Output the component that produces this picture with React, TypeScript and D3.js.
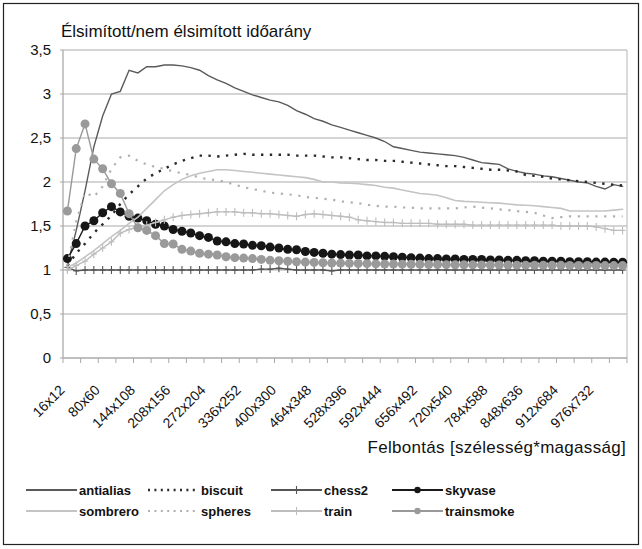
import React from 'react';
import * as d3 from 'd3';

const categories = [
  '16x12','32x24','48x36','64x48','80x60','96x72','112x84','128x96','144x108','160x120',
  '176x132','192x144','208x156','224x168','240x180','256x192','272x204','288x216','304x228','320x240',
  '336x252','352x264','368x276','384x288','400x300','416x312','432x324','448x336','464x348','480x360',
  '496x372','512x384','528x396','544x408','560x420','576x432','592x444','608x456','624x468','640x480',
  '656x492','672x504','688x516','704x528','720x540','736x552','752x564','768x576','784x588','800x600',
  '816x612','832x624','848x636','864x648','880x660','896x672','912x684','928x696','944x708','960x720',
  '976x732','992x744','1008x756','1024x768',
];

const antialias = [1.05,1.45,1.9,2.4,2.75,3.0,3.03,3.27,3.24,3.31,3.31,3.33,3.33,3.32,3.3,3.27,3.21,3.16,3.12,3.07,3.03,2.99,2.96,2.93,2.91,2.87,2.81,2.77,2.72,2.69,2.65,2.62,2.59,2.56,2.53,2.5,2.46,2.4,2.38,2.36,2.34,2.33,2.32,2.31,2.3,2.28,2.25,2.22,2.21,2.2,2.15,2.12,2.1,2.09,2.07,2.06,2.04,2.02,2.0,1.99,1.95,1.92,1.97,1.95];
const biscuit = [1.05,1.19,1.3,1.42,1.52,1.62,1.75,1.86,1.95,2.04,2.1,2.15,2.2,2.24,2.27,2.3,2.3,2.29,2.3,2.31,2.32,2.31,2.31,2.31,2.31,2.31,2.3,2.3,2.3,2.29,2.28,2.28,2.27,2.26,2.25,2.25,2.24,2.24,2.23,2.22,2.21,2.2,2.19,2.18,2.18,2.17,2.16,2.15,2.14,2.14,2.13,2.12,2.08,2.07,2.06,2.04,2.03,2.02,2.01,2.0,1.99,1.98,1.97,1.96];
const chess2 = [1.03,0.99,1.0,1.0,1.0,1.0,1.0,1.0,1.0,1.0,1.0,1.0,1.0,1.0,1.0,1.0,1.0,1.0,1.0,1.0,1.0,1.0,1.01,1.01,1.02,1.01,1.0,1.0,1.0,1.0,0.99,1.0,1.0,1.0,1.0,1.0,1.0,1.0,1.0,1.0,1.0,1.0,1.0,1.0,1.0,1.0,1.0,1.0,1.0,1.0,1.0,1.0,1.0,1.0,1.0,1.0,1.0,1.0,1.0,1.0,1.0,1.0,1.0,1.0];
const skyvase = [1.13,1.3,1.5,1.56,1.65,1.72,1.66,1.61,1.59,1.56,1.52,1.5,1.46,1.44,1.42,1.39,1.37,1.33,1.32,1.3,1.295,1.28,1.275,1.26,1.25,1.235,1.23,1.21,1.2,1.19,1.18,1.175,1.17,1.17,1.16,1.16,1.155,1.15,1.145,1.14,1.135,1.13,1.13,1.125,1.125,1.12,1.12,1.12,1.115,1.115,1.11,1.11,1.105,1.105,1.1,1.1,1.1,1.095,1.095,1.095,1.09,1.09,1.088,1.088];
const sombrero = [1.03,1.08,1.15,1.22,1.3,1.38,1.45,1.53,1.6,1.7,1.8,1.9,1.97,2.03,2.07,2.1,2.12,2.14,2.14,2.13,2.12,2.11,2.1,2.09,2.08,2.07,2.06,2.05,2.03,2.0,2.0,1.99,1.985,1.98,1.97,1.96,1.94,1.93,1.91,1.89,1.87,1.86,1.85,1.82,1.79,1.78,1.775,1.77,1.765,1.76,1.75,1.74,1.735,1.73,1.72,1.71,1.7,1.67,1.67,1.67,1.67,1.67,1.68,1.69];
const spheres = [1.05,1.55,1.88,1.83,1.95,2.15,2.28,2.3,2.24,2.2,2.17,2.15,2.12,2.1,2.08,2.05,2.03,2.02,2.0,1.97,1.94,1.92,1.9,1.88,1.87,1.86,1.85,1.83,1.82,1.81,1.8,1.78,1.77,1.76,1.74,1.73,1.72,1.72,1.71,1.71,1.7,1.7,1.7,1.7,1.7,1.71,1.72,1.71,1.7,1.69,1.68,1.67,1.66,1.65,1.62,1.59,1.6,1.61,1.61,1.61,1.61,1.61,1.61,1.61];
const train = [1.0,1.05,1.1,1.18,1.25,1.32,1.42,1.46,1.49,1.51,1.54,1.57,1.6,1.62,1.63,1.64,1.65,1.66,1.66,1.66,1.65,1.65,1.64,1.64,1.63,1.62,1.61,1.63,1.64,1.63,1.62,1.61,1.6,1.57,1.56,1.55,1.54,1.54,1.53,1.53,1.53,1.53,1.52,1.52,1.52,1.52,1.51,1.51,1.51,1.51,1.51,1.51,1.51,1.51,1.51,1.51,1.5,1.5,1.5,1.5,1.49,1.47,1.45,1.45];
const trainsmoke = [1.67,2.38,2.66,2.26,2.15,1.98,1.87,1.64,1.48,1.45,1.39,1.3,1.295,1.235,1.215,1.19,1.18,1.17,1.15,1.14,1.135,1.13,1.12,1.11,1.105,1.1,1.094,1.09,1.086,1.083,1.08,1.078,1.076,1.074,1.072,1.07,1.068,1.067,1.066,1.065,1.064,1.063,1.062,1.061,1.06,1.06,1.059,1.058,1.057,1.057,1.056,1.055,1.055,1.054,1.054,1.053,1.053,1.052,1.052,1.051,1.051,1.05,1.05,1.05];

const yTicks = [0, 0.5, 1, 1.5, 2, 2.5, 3, 3.5];

type Style = { name: string; data: number[]; color: string; width: number; dash?: string; marker?: 'plus' | 'dot'; markerColor?: string };

const series: Style[] = [
  { name: 'antialias', data: antialias, color: '#5a5a5a', width: 1.4 },
  { name: 'biscuit', data: biscuit, color: '#2a2a2a', width: 2.4, dash: '2.4,6.4' },
  { name: 'chess2', data: chess2, color: '#555', width: 1.4, marker: 'plus' },
  { name: 'skyvase', data: skyvase, color: '#1a1a1a', width: 1.4, marker: 'dot', markerColor: '#161616' },
  { name: 'sombrero', data: sombrero, color: '#c4c4c4', width: 1.6 },
  { name: 'spheres', data: spheres, color: '#b0b0b0', width: 2.2, dash: '2.2,6.6' },
  { name: 'train', data: train, color: '#bdbdbd', width: 1.4, marker: 'plus' },
  { name: 'trainsmoke', data: trainsmoke, color: '#999', width: 1.4, marker: 'dot', markerColor: '#9a9a9a' },
];

const W = 642, H = 549;
const left = 63, right = 627, top = 50, bottom = 358;
const font = 'Liberation Sans, Arial, sans-serif';

export default function App() {
  const x = d3.scalePoint<string>().domain(categories).range([left, right]).padding(0.5);
  const step = x.step();
  const y = d3.scaleLinear().domain([0, 3.5]).range([bottom, top]);
  const line = d3.line<number>().x((_, i) => x(categories[i]) as number).y((d) => y(d));

  const tickBounds = d3.range(0, categories.length + 1, 2).map((k) => left + k * step);
  const labelIdx = d3.range(0, categories.length, 4);

  const legendCols = [26, 148, 271, 392];
  const legendRows = [490, 511];

  const renderMarkers = (s: Style, pts: [number, number][], key: string) =>
    pts.map(([px, py], i) =>
      s.marker === 'plus' ? (
        <g key={key + i} stroke={s.color} strokeWidth={1.1}>
          <line x1={px} x2={px} y1={py - 4} y2={py + 4} />
          <line x1={px - 3} x2={px + 3} y1={py} y2={py} />
        </g>
      ) : s.marker === 'dot' ? (
        <circle key={key + i} cx={px} cy={py} r={4.5} fill={s.markerColor} />
      ) : null
    );

  return (
    <svg width={W} height={H} style={{ display: 'block', position: 'absolute', left: 0, top: 0 }} fontFamily={font}>
      <rect x={0} y={0} width={W} height={H} fill="#fff" />
      <rect x={3.5} y={3.5} width={635} height={541} fill="none" stroke="#222" strokeWidth={1.2} />
      <text x={61} y={37} fontSize={17} fill="#111">Élsimított/nem élsimított időarány</text>

      {yTicks.map((t) => (
        <g key={t}>
          {t > 0 && <line x1={left} x2={right} y1={y(t)} y2={y(t)} stroke="#c6c6c6" strokeWidth={1.3} />}
          <line x1={left - 3} x2={left} y1={y(t)} y2={y(t)} stroke="#aaa" />
          <text x={51} y={y(t) + 5} fontSize={15} textAnchor="end" fill="#111">{String(t).replace('.', ',')}</text>
        </g>
      ))}
      <line x1={right} x2={right} y1={top} y2={bottom} stroke="#c6c6c6" strokeWidth={1.3} />
      <line x1={left} x2={left} y1={top} y2={bottom} stroke="#aaa" strokeWidth={1.3} />
      <line x1={left} x2={right} y1={bottom} y2={bottom} stroke="#aaa" strokeWidth={1.3} />
      {tickBounds.map((tx, i) => (
        <line key={i} x1={tx} x2={tx} y1={bottom} y2={bottom + 5} stroke="#aaa" />
      ))}
      {labelIdx.map((i) => {
        const cx = (x(categories[i]) as number) - 2;
        const cy = 391;
        return (
          <text key={i} x={cx} y={cy} fontSize={14} textAnchor="end" fill="#111" transform={`rotate(-45 ${cx} ${cy})`}>
            {categories[i]}
          </text>
        );
      })}
      <text x={626} y={453} fontSize={17} letterSpacing={0.3} textAnchor="end" fill="#111">Felbontás [szélesség*magasság]</text>

      {series.map((s) => {
        const pts = s.data.map((d, i) => [x(categories[i]) as number, y(d)] as [number, number]);
        return (
          <g key={s.name}>
            <path d={line(s.data) || ''} fill="none" stroke={s.color} strokeWidth={s.width} strokeDasharray={s.dash} strokeLinecap={s.dash ? 'butt' : 'round'} />
            {renderMarkers(s, pts, s.name)}
          </g>
        );
      })}

      {series.map((s, i) => {
        const lx = legendCols[i % 4];
        const ly = legendRows[Math.floor(i / 4)];
        const x2 = lx + 51;
        return (
          <g key={'lg' + s.name}>
            <line x1={lx} x2={x2} y1={ly} y2={ly} stroke={s.color} strokeWidth={s.dash ? s.width : 1.8} strokeDasharray={s.dash ? '2,4.4' : undefined} />
            {s.marker === 'plus' && <line x1={(lx + x2) / 2} x2={(lx + x2) / 2} y1={ly - 4} y2={ly + 4} stroke={s.color} strokeWidth={1.1} />}
            {s.marker === 'dot' && <circle cx={(lx + x2) / 2} cy={ly} r={3.2} fill={s.markerColor} />}
            <text x={x2 + 2} y={ly + 5} fontSize={13} fontWeight="bold" fill="#111">{s.name}</text>
          </g>
        );
      })}
    </svg>
  );
}
